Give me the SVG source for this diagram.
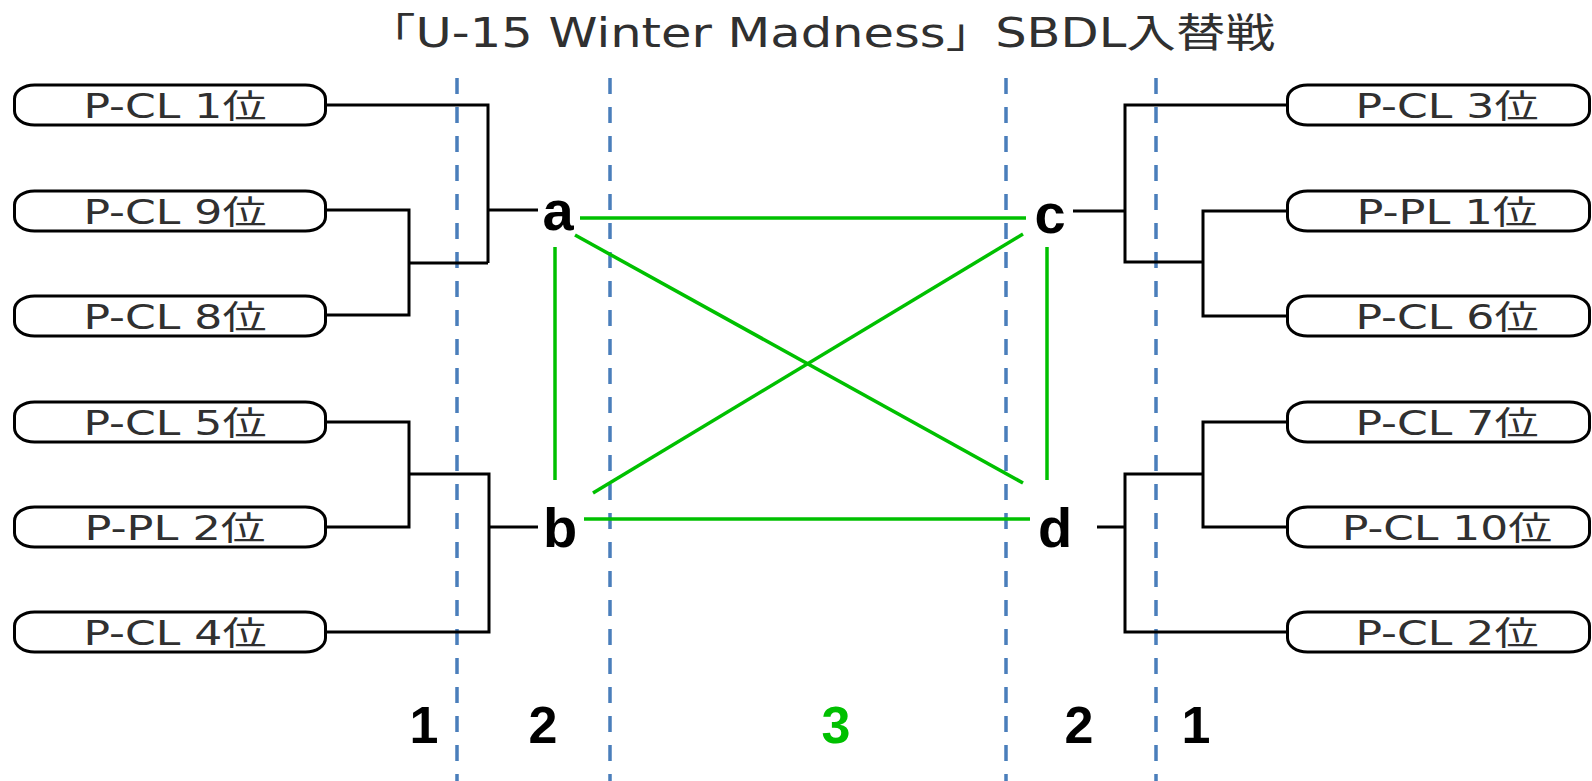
<svg xmlns="http://www.w3.org/2000/svg" width="1592" height="781" viewBox="0 0 1592 781">
<style>
.box{fill:#fff;stroke:#000;stroke-width:3}
.lbl{font-family:"DejaVu Sans","Noto Sans CJK JP",sans-serif;font-size:33px;fill:#303030;text-anchor:middle}
.title{font-family:"DejaVu Sans","Noto Sans CJK JP",sans-serif;font-size:40px;fill:#303030}
.conn{fill:none;stroke:#000;stroke-width:3}
.grn{fill:none;stroke:#00C000;stroke-width:3.5}
.dash{stroke:#4A7EBB;stroke-width:3.5;stroke-dasharray:16 13}
.big{font-family:"Liberation Sans",Arial,sans-serif;font-weight:bold;font-size:56px;fill:#000;text-anchor:middle}
.num{font-family:"Liberation Sans",Arial,sans-serif;font-weight:bold;font-size:52px;fill:#000;text-anchor:middle}
</style>
<rect width="1592" height="781" fill="#fff"/>
<text class="title" x="366" y="47" textLength="909" lengthAdjust="spacingAndGlyphs">「U-15 Winter Madness」SBDL入替戦</text>

<g id="rounds">
<line class="dash" x1="457" y1="78" x2="457" y2="781"/>
<line class="dash" x1="610" y1="78" x2="610" y2="781"/>
<line class="dash" x1="1006" y1="78" x2="1006" y2="781"/>
<line class="dash" x1="1156" y1="78" x2="1156" y2="781"/>
</g>

<g id="connectors">
<path class="conn" d="M327,105 H488 V263 M327,210 H409 V315 H327 M409,263 H488 M488,210 H538"/>
<path class="conn" d="M327,422 H409 V527 H327 M409,474 H489 V632 H327 M489,527 H538"/>
<path class="conn" d="M1286,105 H1125 V262 H1203 M1286,211 H1203 V316 H1286 M1073,211 H1125"/>
<path class="conn" d="M1286,422 H1203 V527 H1286 M1203,474 H1125 V632 H1286 M1097,527 H1125"/>
<line class="grn" x1="580" y1="218" x2="1026" y2="218"/>
<line class="grn" x1="584" y1="519" x2="1030" y2="519"/>
<line class="grn" x1="555" y1="247" x2="555" y2="480"/>
<line class="grn" x1="1047" y1="247" x2="1047" y2="480"/>
<line class="grn" x1="575" y1="235" x2="1023" y2="483"/>
<line class="grn" x1="1023" y1="234" x2="593" y2="493"/>
</g>

<g id="n-pcl1"><rect class="box" x="14.5" y="85" width="311" height="40" rx="20" ry="14"/><text class="lbl" x="175" y="118" textLength="183" lengthAdjust="spacingAndGlyphs">P-CL 1位</text></g>
<g id="n-pcl9"><rect class="box" x="14.5" y="191" width="311" height="40" rx="20" ry="14"/><text class="lbl" x="175" y="224" textLength="183" lengthAdjust="spacingAndGlyphs">P-CL 9位</text></g>
<g id="n-pcl8"><rect class="box" x="14.5" y="296" width="311" height="40" rx="20" ry="14"/><text class="lbl" x="175" y="329" textLength="183" lengthAdjust="spacingAndGlyphs">P-CL 8位</text></g>
<g id="n-pcl5"><rect class="box" x="14.5" y="402" width="311" height="40" rx="20" ry="14"/><text class="lbl" x="175" y="435" textLength="183" lengthAdjust="spacingAndGlyphs">P-CL 5位</text></g>
<g id="n-ppl2"><rect class="box" x="14.5" y="507" width="311" height="40" rx="20" ry="14"/><text class="lbl" x="175" y="540" textLength="181" lengthAdjust="spacingAndGlyphs">P-PL 2位</text></g>
<g id="n-pcl4"><rect class="box" x="14.5" y="612" width="311" height="40" rx="20" ry="14"/><text class="lbl" x="175" y="645" textLength="183" lengthAdjust="spacingAndGlyphs">P-CL 4位</text></g>

<g id="n-pcl3"><rect class="box" x="1287.5" y="85" width="302" height="40" rx="20" ry="14"/><text class="lbl" x="1447" y="118" textLength="183" lengthAdjust="spacingAndGlyphs">P-CL 3位</text></g>
<g id="n-ppl1"><rect class="box" x="1287.5" y="191" width="302" height="40" rx="20" ry="14"/><text class="lbl" x="1447" y="224" textLength="181" lengthAdjust="spacingAndGlyphs">P-PL 1位</text></g>
<g id="n-pcl6"><rect class="box" x="1287.5" y="296" width="302" height="40" rx="20" ry="14"/><text class="lbl" x="1447" y="329" textLength="183" lengthAdjust="spacingAndGlyphs">P-CL 6位</text></g>
<g id="n-pcl7"><rect class="box" x="1287.5" y="402" width="302" height="40" rx="20" ry="14"/><text class="lbl" x="1447" y="435" textLength="183" lengthAdjust="spacingAndGlyphs">P-CL 7位</text></g>
<g id="n-pcl10"><rect class="box" x="1287.5" y="507" width="302" height="40" rx="20" ry="14"/><text class="lbl" x="1447" y="540" textLength="210" lengthAdjust="spacingAndGlyphs">P-CL 10位</text></g>
<g id="n-pcl2"><rect class="box" x="1287.5" y="612" width="302" height="40" rx="20" ry="14"/><text class="lbl" x="1447" y="645" textLength="183" lengthAdjust="spacingAndGlyphs">P-CL 2位</text></g>

<g id="n-a"><text class="big" x="558" y="230">a</text></g>
<g id="n-b"><text class="big" x="560" y="547">b</text></g>
<g id="n-c"><text class="big" x="1050" y="233">c</text></g>
<g id="n-d"><text class="big" x="1055" y="547">d</text></g>

<g id="round-labels">
<text class="num" x="424" y="743">1</text>
<text class="num" x="543" y="743">2</text>
<text class="num" x="836" y="743" style="fill:#00C000">3</text>
<text class="num" x="1079" y="743">2</text>
<text class="num" x="1196" y="743">1</text>
</g>
</svg>
